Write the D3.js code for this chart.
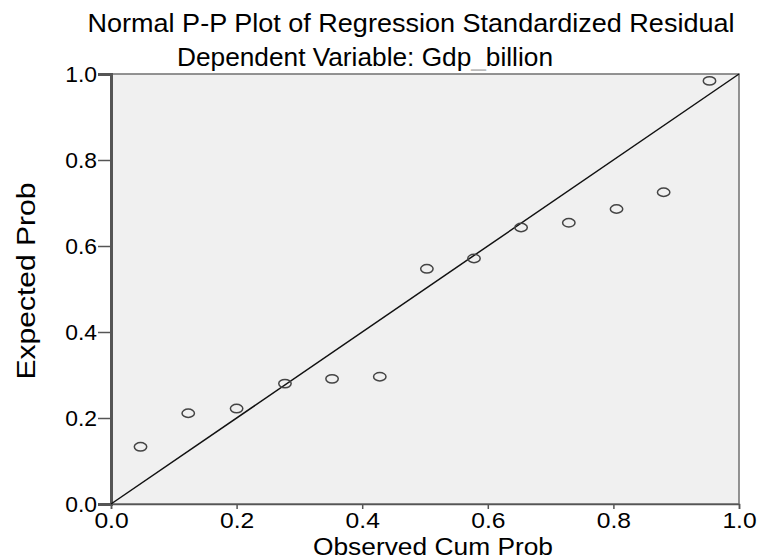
<!DOCTYPE html>
<html>
<head>
<meta charset="utf-8">
<script src="https://cdn.jsdelivr.net/npm/d3@7"></script>
<style>
  body { margin: 0; background: #fff; }
  text { font-family: "Liberation Sans", Arial, sans-serif; fill: #000; }
</style>
</head>
<body>
<div id="chart"></div>
<script>
// observed cumulative probability vs expected probability
var observed = [0.047, 0.123, 0.200, 0.277, 0.352, 0.428, 0.503, 0.578, 0.653, 0.729, 0.805, 0.880, 0.953];
var expected = [0.133, 0.211, 0.222, 0.280, 0.291, 0.296, 0.547, 0.571, 0.643, 0.654, 0.686, 0.725, 0.984];
var tickValues = [0.0, 0.2, 0.4, 0.6, 0.8, 1.0];

var W = 767, H = 559;
var margin = {top: 74, right: 28, bottom: 55, left: 111};
var width = W - margin.left - margin.right,
    height = H - margin.top - margin.bottom;

// the original picture is a bit wider than the font, stretch text sideways
function stretch(sel, k) {
    sel.each(function() {
        var len = this.getComputedTextLength();
        d3.select(this).attr("textLength", len * k).attr("lengthAdjust", "spacingAndGlyphs");
    });
}

var svg = d3.select("#chart").append("svg")
    .attr("width", W)
    .attr("height", H);

var g = svg.append("g")
    .attr("transform", "translate(" + margin.left + "," + margin.top + ")");

var x = d3.scaleLinear().domain([0, 1]).range([0, width]);
var y = d3.scaleLinear().domain([0, 1]).range([height, 0]);

// plot background + frame
g.append("rect")
    .attr("width", width)
    .attr("height", height)
    .attr("fill", "#f0f0f0")
    .attr("stroke", "#707070")
    .attr("stroke-width", 1.5);

// axes
var xAxis = d3.axisBottom(x).tickValues(tickValues).tickFormat(d3.format(".1f")).tickSize(5).tickPadding(3);
var yAxis = d3.axisLeft(y).tickValues(tickValues).tickFormat(d3.format(".1f")).tickSize(13).tickPadding(1);

var gx = g.append("g")
    .attr("transform", "translate(0," + height + ")")
    .call(xAxis);
gx.select(".domain").attr("stroke", "#555").attr("stroke-width", 1.5);
gx.selectAll(".tick line").attr("stroke", "#555").attr("stroke-width", 1.5);
gx.selectAll(".tick text").style("font-size", "22px").call(stretch, 1.12);

var gy = g.append("g").call(yAxis);
gy.select(".domain").attr("stroke", "#555").attr("stroke-width", 3);
gy.selectAll(".tick text").style("font-size", "22px").attr("dy", "0.35em").call(stretch, 1.04);
gy.selectAll(".tick line").attr("stroke", "#555").attr("stroke-width", 1.5);

// reference diagonal
g.append("line")
    .attr("x1", x(0)).attr("y1", y(0))
    .attr("x2", x(1)).attr("y2", y(1))
    .attr("stroke", "#111")
    .attr("stroke-width", 1.5);

// points
var pts = observed.map(function(d, i) { return {obs: d, exp: expected[i]}; });
g.selectAll(".dot")
    .data(pts)
    .enter()
    .append("ellipse")
    .attr("class", "dot")
    .attr("cx", function(d) { return x(d.obs); })
    .attr("cy", function(d) { return y(d.exp); })
    .attr("rx", 6.2)
    .attr("ry", 4.2)
    .attr("fill", "none")
    .attr("stroke", "#444")
    .attr("stroke-width", 1.5);

// titles
svg.append("text")
    .attr("x", 411)
    .attr("y", 32)
    .attr("text-anchor", "middle")
    .attr("textLength", 647)
    .attr("lengthAdjust", "spacingAndGlyphs")
    .style("font-size", "26px")
    .text("Normal P-P Plot of Regression Standardized Residual");

var sub = svg.append("text")
    .attr("x", 365)
    .attr("y", 66)
    .attr("text-anchor", "middle")
    .attr("textLength", 376)
    .attr("lengthAdjust", "spacingAndGlyphs")
    .style("font-size", "26px");
sub.append("tspan").text("Dependent Variable: Gdp");
sub.append("tspan").style("fill", "#bbb").text("_");
sub.append("tspan").text("billion");

svg.append("text")
    .attr("x", 433)
    .attr("y", 555)
    .attr("text-anchor", "middle")
    .attr("textLength", 240)
    .attr("lengthAdjust", "spacingAndGlyphs")
    .style("font-size", "23px")
    .text("Observed Cum Prob");

svg.append("text")
    .attr("transform", "translate(35,281) rotate(-90)")
    .attr("text-anchor", "middle")
    .attr("textLength", 197)
    .attr("lengthAdjust", "spacingAndGlyphs")
    .style("font-size", "25px")
    .text("Expected Prob");
</script>
</body>
</html>
